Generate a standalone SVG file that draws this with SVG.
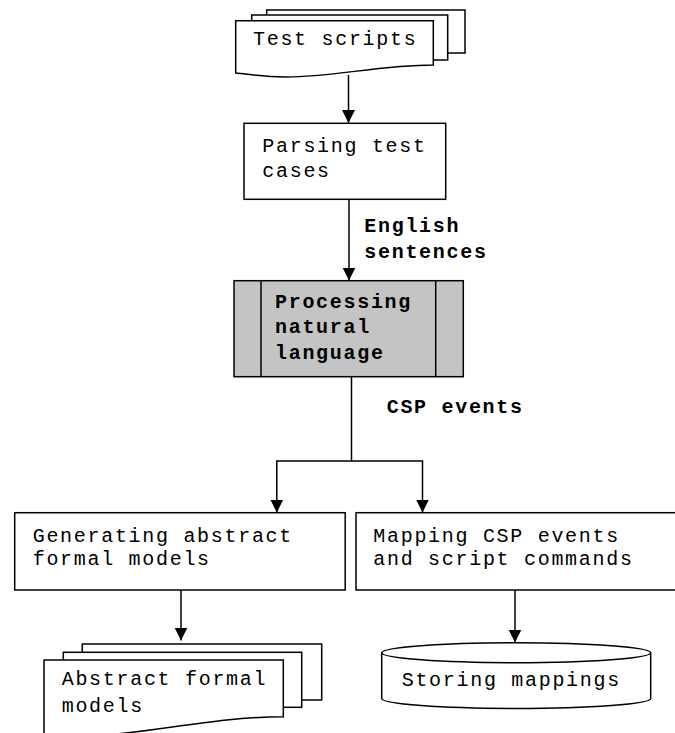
<svg xmlns="http://www.w3.org/2000/svg" width="675" height="733" viewBox="0 0 675 733">
  <style>
    .shape { fill: #ffffff; stroke: #000000; stroke-width: 1.5; }
    .proc { fill: #c4c4c4; stroke: #000000; stroke-width: 1.5; }
    .line { fill: none; stroke: #000000; stroke-width: 1.5; }
    .t { font-family: "Liberation Mono", "Courier New", monospace; font-size: 20px; letter-spacing: 1.7px; fill: #000000; }
    .b { font-weight: bold; }
  </style>
  <defs>
    <marker id="arrow" markerUnits="userSpaceOnUse" markerWidth="14" markerHeight="14" refX="13" refY="7" orient="auto">
      <path d="M0,0.5 L13,7 L0,13.5 Z" fill="#000000"/>
    </marker>
  </defs>
  <rect width="675" height="733" fill="#ffffff"/>

  <!-- connectors -->
  <g id="connectors">
    <line class="line" x1="348.5" y1="75" x2="348.5" y2="123" marker-end="url(#arrow)"/>
    <line class="line" x1="349" y1="199.5" x2="349" y2="280.5" marker-end="url(#arrow)"/>
    <polyline class="line" points="351.5,376.5 351.5,461 276.8,461 276.8,512.5" marker-end="url(#arrow)"/>
    <polyline class="line" points="351.5,461 422.5,461 422.5,512.5" marker-end="url(#arrow)"/>
    <line class="line" x1="181" y1="590" x2="181" y2="640.5" marker-end="url(#arrow)"/>
    <line class="line" x1="515" y1="590" x2="515" y2="642.5" marker-end="url(#arrow)"/>
    <text class="t b" x="364.3" y="231.7">English</text>
    <text class="t b" x="364.3" y="258.3">sentences</text>
    <text class="t b" x="386.7" y="412.7">CSP events</text>
  </g>

  <!-- Test scripts: stacked documents -->
  <g id="test-scripts">
    <rect class="shape" x="266.7" y="10" width="198.3" height="43"/>
    <rect class="shape" x="251.7" y="15" width="196" height="45"/>
    <path class="shape" d="M235.7,20.7 H433.3 V65 C380,65 330,77.5 285,77 C262,76.8 248,74 235.7,73 Z"/>
    <text class="t" x="253" y="45">Test scripts</text>
  </g>

  <!-- Parsing test cases -->
  <g id="parsing">
    <rect class="shape" x="244" y="123.3" width="201.7" height="76"/>
    <text class="t" x="262.3" y="151.7">Parsing test</text>
    <text class="t" x="262.3" y="176.7">cases</text>
  </g>

  <!-- Processing natural language: predefined process -->
  <g id="processing">
    <rect class="proc" x="234" y="280.7" width="229.3" height="96"/>
    <line class="line" x1="261" y1="280.7" x2="261" y2="376.7"/>
    <line class="line" x1="435.7" y1="280.7" x2="435.7" y2="376.7"/>
    <text class="t b" x="275" y="308.3">Processing</text>
    <text class="t b" x="275" y="333.3">natural</text>
    <text class="t b" x="275" y="359.3">language</text>
  </g>

  <!-- Generating abstract formal models -->
  <g id="generating">
    <rect class="shape" x="14.7" y="512.7" width="330.5" height="77.3"/>
    <text class="t" x="32.7" y="541.7">Generating abstract</text>
    <text class="t" x="32.7" y="565">formal models</text>
  </g>

  <!-- Mapping CSP events and script commands -->
  <g id="mapping">
    <rect class="shape" x="356" y="512.7" width="330" height="77.3"/>
    <text class="t" x="373.3" y="541.7">Mapping CSP events</text>
    <text class="t" x="373.3" y="565">and script commands</text>
  </g>

  <!-- Abstract formal models: stacked documents -->
  <g id="abstract-models">
    <rect class="shape" x="82.3" y="644" width="239.4" height="56"/>
    <rect class="shape" x="63.3" y="652.3" width="238.4" height="55"/>
    <path class="shape" d="M44,660 H283.3 V716.7 C220,716.7 160,731 105,735 C80,736.5 60,735 44,734 Z"/>
    <text class="t" x="61.7" y="685">Abstract formal</text>
    <text class="t" x="61.7" y="711.7">models</text>
  </g>

  <!-- Storing mappings: stored data cylinder -->
  <g id="storing">
    <path class="shape" d="M381.7,652.7 V698.5 A134.5,10 0 0 0 650.7,698.5 V652.7"/>
    <ellipse class="shape" cx="516.2" cy="652.7" rx="134.5" ry="10"/>
    <text class="t" x="401.7" y="686">Storing mappings</text>
  </g>
</svg>
